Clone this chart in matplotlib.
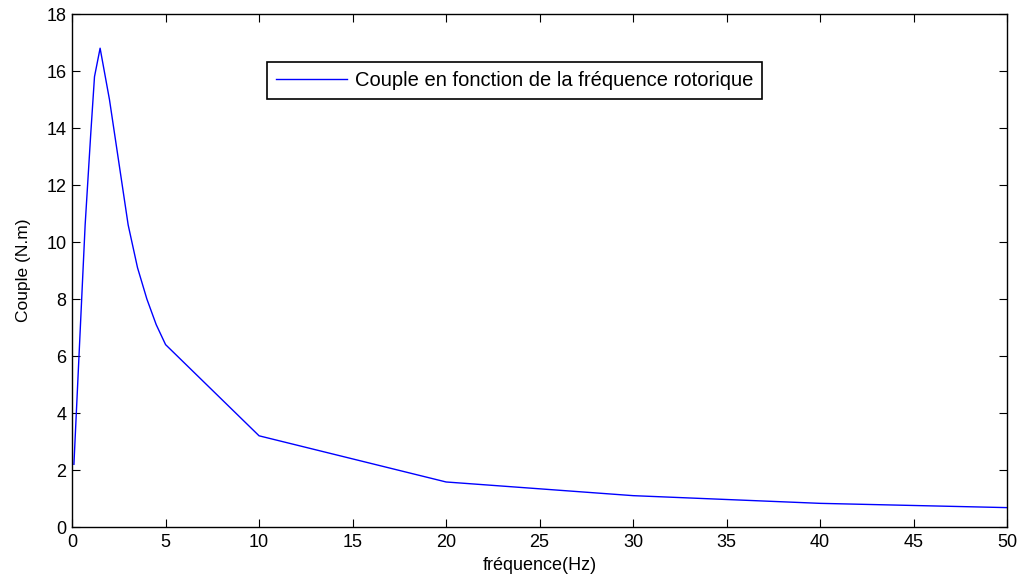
import matplotlib
matplotlib.use("Agg")
import matplotlib.pyplot as plt

# Rotor frequency (Hz) and torque (N.m)
freq = [0.1, 0.7, 1.0, 1.2, 1.5, 2.0, 3.0, 3.5, 4.0, 4.5, 5.0, 10, 20, 30, 40, 50]
couple = [2.2, 10.6, 13.8, 15.8, 16.8, 15.0, 10.6, 9.1, 8.0, 7.1, 6.4,
          3.2, 1.58, 1.1, 0.83, 0.68]

x_ticks = list(range(0, 51, 5))
y_ticks = list(range(0, 19, 2))

plt.rcParams["font.family"] = ["Liberation Sans", "DejaVu Sans"]

fig = plt.figure(figsize=(10.22, 5.79), dpi=100)
ax = fig.add_axes([0.0705, 0.0898, 0.915, 0.886])

ax.plot(freq, couple, color="blue", linewidth=1.0,
        label="Couple en fonction de la fréquence rotorique")

ax.set_xlim(0, 50)
ax.set_ylim(0, 18)
ax.set_xticks(x_ticks)
ax.set_yticks(y_ticks)
ax.tick_params(direction="in", length=6, width=0.8, top=True, right=True,
               labelsize=13)
ax.tick_params(axis="x", pad=5)
ax.tick_params(axis="y", pad=4)
for s in ax.spines.values():
    s.set_linewidth(1.0)

ax.set_xlabel("fréquence(Hz)", fontsize=13, labelpad=4)
ax.set_ylabel("Couple (N.m)", fontsize=12.5, labelpad=11)

leg = ax.legend(loc="upper left", bbox_to_anchor=(0.2086, 0.906),
                fontsize=14.5, handlelength=3.5, handletextpad=0.4,
                borderpad=0.45, borderaxespad=0, fancybox=False, framealpha=1)
leg.get_frame().set_edgecolor("black")
leg.get_frame().set_linewidth(1.2)

fig.savefig("out.png", dpi=100)
